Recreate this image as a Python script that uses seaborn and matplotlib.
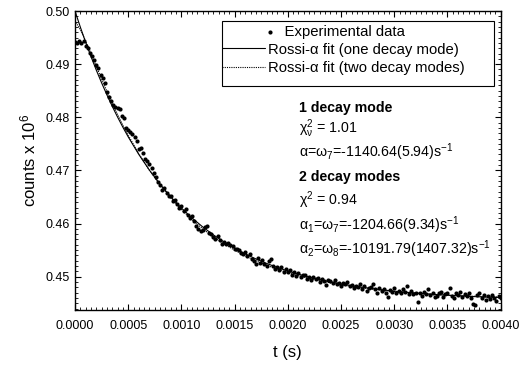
import numpy as np
import pandas as pd
import matplotlib
matplotlib.use("Agg")
import matplotlib.pyplot as plt
import seaborn as sns
from matplotlib.legend_handler import HandlerPathCollection
from matplotlib.ticker import MultipleLocator
from matplotlib.patches import Rectangle

# ---------------- data ----------------
t_step = 2e-5  # sampling interval of the measured points (s)

counts = [
    0.49425, 0.49405, 0.49440, 0.49395, 0.49430,
    0.49335, 0.49300, 0.49215, 0.49160, 0.49085,
    0.48985, 0.48920, 0.48790, 0.48735, 0.48640,
    0.48480, 0.48390, 0.48310, 0.48240, 0.48195,
    0.48175, 0.48150, 0.48030, 0.47990, 0.47800,
    0.47760, 0.47730, 0.47690, 0.47620, 0.47560,
    0.47400, 0.47430, 0.47330, 0.47220, 0.47180,
    0.47120, 0.47040, 0.46960, 0.46880, 0.46790,
    0.46720, 0.46640, 0.46660, 0.46570, 0.46520,
    0.46510, 0.46430, 0.46450, 0.46360, 0.46290,
    0.46330, 0.46240, 0.46270, 0.46160, 0.46100,
    0.46140, 0.46050, 0.45960, 0.45890, 0.45860,
    0.45880, 0.45930, 0.45950, 0.45820, 0.45800,
    0.45740, 0.45700, 0.45760, 0.45690, 0.45620,
    0.45660, 0.45610, 0.45640, 0.45590, 0.45580,
    0.45530, 0.45520, 0.45510, 0.45440, 0.45420,
    0.45470, 0.45390, 0.45420, 0.45330, 0.45300,
    0.45230, 0.45360, 0.45250, 0.45310, 0.45230,
    0.45210, 0.45290, 0.45340, 0.45200, 0.45150,
    0.45190, 0.45120, 0.45180, 0.45090, 0.45140,
    0.45080, 0.45120, 0.45040, 0.45090, 0.45010,
    0.45060, 0.44990, 0.45030, 0.45040, 0.44960,
    0.45000, 0.44930, 0.44990, 0.44950, 0.44980,
    0.44900, 0.44960, 0.44910, 0.44850, 0.44930,
    0.44920, 0.44880, 0.44940, 0.44860, 0.44890,
    0.44830, 0.44880, 0.44860, 0.44900, 0.44820,
    0.44850, 0.44780, 0.44830, 0.44800, 0.44860,
    0.44760, 0.44820, 0.44740, 0.44790, 0.44810,
    0.44870, 0.44760, 0.44700, 0.44780, 0.44740,
    0.44770, 0.44690, 0.44620, 0.44750, 0.44720,
    0.44780, 0.44700, 0.44740, 0.44690, 0.44760,
    0.44720, 0.44820, 0.44680, 0.44730, 0.44670,
    0.44700, 0.44530, 0.44690, 0.44640, 0.44720,
    0.44680, 0.44760, 0.44650, 0.44700, 0.44620,
    0.44640, 0.44690, 0.44720, 0.44610, 0.44670,
    0.44700, 0.44790, 0.44630, 0.44600, 0.44690,
    0.44660, 0.44720, 0.44610, 0.44680, 0.44640,
    0.44700, 0.44590, 0.44490, 0.44470, 0.44650,
    0.44690, 0.44600, 0.44660, 0.44570, 0.44630,
    0.44580, 0.44650, 0.44600, 0.44550, 0.44640, 0.44590,
]

fit_t = [0.0, 0.00005, 0.0001, 0.00015, 0.0002, 0.00025, 0.0003, 0.00035,
         0.0004, 0.00045, 0.0005, 0.0006, 0.0007, 0.0008, 0.0009, 0.0010,
         0.0011, 0.0012, 0.0013, 0.0014, 0.0015, 0.0016, 0.0017, 0.0018,
         0.0019, 0.0020, 0.0021, 0.0022, 0.0023, 0.0024, 0.0025, 0.0026,
         0.0027, 0.0028, 0.0029, 0.0030, 0.0031, 0.0032, 0.0033, 0.0034,
         0.0035, 0.0036, 0.0037, 0.0038, 0.0039, 0.0040]

fit_one_mode = [0.50000, 0.49698, 0.49413, 0.49143, 0.48888, 0.48648, 0.48421, 0.48206,
                0.48004, 0.47812, 0.47631, 0.47299, 0.47003, 0.46738, 0.46503, 0.46292,
                0.46104, 0.45937, 0.45787, 0.45654, 0.45535, 0.45429, 0.45334, 0.45250,
                0.45174, 0.45107, 0.45047, 0.44993, 0.44946, 0.44903, 0.44865, 0.44831,
                0.44801, 0.44774, 0.44749, 0.44728, 0.44709, 0.44692, 0.44676, 0.44663,
                0.44651, 0.44640, 0.44630, 0.44621, 0.44614, 0.44607]

fit_two_modes = [0.49820, 0.49649, 0.49434, 0.49199, 0.48958, 0.48719, 0.48488, 0.48265,
                 0.48053, 0.47852, 0.47661, 0.47312, 0.47001, 0.46725, 0.46481, 0.46264,
                 0.46072, 0.45901, 0.45750, 0.45616, 0.45497, 0.45392, 0.45299, 0.45216,
                 0.45143, 0.45078, 0.45020, 0.44969, 0.44924, 0.44884, 0.44848, 0.44817,
                 0.44789, 0.44764, 0.44742, 0.44722, 0.44705, 0.44690, 0.44676, 0.44664,
                 0.44653, 0.44644, 0.44636, 0.44628, 0.44622, 0.44616]

x_ticks = [0.0000, 0.0005, 0.0010, 0.0015, 0.0020, 0.0025, 0.0030, 0.0035, 0.0040]
x_tick_labels = ["0.0000", "0.0005", "0.0010", "0.0015", "0.0020",
                 "0.0025", "0.0030", "0.0035", "0.0040"]
y_ticks = [0.45, 0.46, 0.47, 0.48, 0.49, 0.50]
y_tick_labels = ["0.45", "0.46", "0.47", "0.48", "0.49", "0.50"]

legend_labels = ["    Experimental data",
                 "Rossi-\u03b1 fit (one decay mode)",
                 "Rossi-\u03b1 fit (two decay modes)"]

annotations = [
    ("1 decay mode", "bold"),
    (r"$\chi^{2}_{\nu}$ = 1.01", "normal"),
    (r"$\alpha$=$\omega_{7}$=-1140.64(5.94)s$^{-1}$", "normal"),
    ("2 decay modes", "bold"),
    (r"$\chi^{2}$ = 0.94", "normal"),
    (r"$\alpha_{1}$=$\omega_{7}$=-1204.66(9.34)s$^{-1}$", "normal"),
    (r"$\alpha_{2}$=$\omega_{8}$=-10191.79(1407.32)s$^{-1}$", "normal"),
]

# ---------------- style ----------------
sns.set_theme(style="ticks")
plt.rcParams["font.family"] = ["Liberation Sans", "DejaVu Sans"]
plt.rcParams["mathtext.fontset"] = "custom"
plt.rcParams["mathtext.rm"] = "Liberation Sans"
plt.rcParams["mathtext.it"] = "Liberation Sans:italic"
plt.rcParams["mathtext.bf"] = "Liberation Sans:bold"
plt.rcParams["mathtext.default"] = "regular"
for k in ["text.color", "axes.labelcolor", "xtick.color", "ytick.color", "axes.edgecolor"]:
    plt.rcParams[k] = "black"

df = pd.DataFrame({"t": np.arange(len(counts)) * t_step, "counts": counts})
fits = pd.DataFrame({"t": fit_t, "one": fit_one_mode, "two": fit_two_modes})

fig = plt.figure(figsize=(5.32, 3.65), dpi=100)
fig.patch.set_facecolor("white")
ax = fig.add_axes([0.14098, 0.15068, 0.80019, 0.81918])
ax.set_facecolor("white")

sns.scatterplot(data=df, x="t", y="counts", ax=ax, color="black", s=9,
                linewidth=0, label=legend_labels[0], zorder=3)
sns.lineplot(data=fits, x="t", y="one", ax=ax, color="black", lw=0.8,
             label=legend_labels[1], zorder=4)
sns.lineplot(data=fits, x="t", y="two", ax=ax, color="black", lw=0.8,
             linestyle=(0, (1, 1)), label=legend_labels[2], zorder=4)

ax.set_xlim(0, 0.004)
ax.set_ylim(0.44373, 0.50)
ax.set_xticks(x_ticks)
ax.set_xticklabels(x_tick_labels)
ax.set_yticks(y_ticks)
ax.set_yticklabels(y_tick_labels)
ax.xaxis.set_minor_locator(MultipleLocator(0.00005))
ax.yaxis.set_minor_locator(MultipleLocator(0.001))
ax.tick_params(which="both", direction="in", top=True, right=True)
ax.tick_params(which="major", length=4, width=0.8, labelsize=9)
ax.tick_params(axis="x", which="major", pad=7.5)
ax.tick_params(axis="y", which="major", pad=4)
ax.tick_params(which="minor", length=2.2, width=0.6)
for sp in ax.spines.values():
    sp.set_visible(True)
    sp.set_color("black")
    sp.set_linewidth(1.0)

ax.set_xlabel("t (s)", fontsize=12, labelpad=9)
ax.set_ylabel("counts x 10$^{6}$", fontsize=12, labelpad=5)


class DotRight(HandlerPathCollection):
    def get_xdata(self, legend, xdescent, ydescent, width, height, fontsize):
        x = -xdescent + width + 0.35 * fontsize
        return np.array([x]), np.array([x])


if ax.get_legend() is not None:
    ax.get_legend().remove()
handles, labels = ax.get_legend_handles_labels()
leg = ax.legend(handles, labels, loc="upper left",
                bbox_to_anchor=(0.3453, 0.9548), borderaxespad=0, borderpad=0,
                frameon=False, fontsize=10.7, handlelength=2.9,
                handletextpad=0.2, labelspacing=0.28, scatterpoints=1,
                handler_map={type(handles[0]): DotRight()})
ax.add_patch(Rectangle((0.3453, 0.7492), 0.6390, 0.2174, transform=ax.transAxes,
                       fill=False, edgecolor="black", lw=0.8, zorder=5))

ann_x = 0.526
ann_y = [0.6622, 0.5920, 0.5117, 0.4314, 0.3512, 0.2676, 0.1873]
for (txt, wt), yy in zip(annotations, ann_y):
    ax.text(ann_x, yy, txt, transform=ax.transAxes, fontsize=10.2,
            fontweight=wt, va="baseline", ha="left")

fig.savefig("out.png", dpi=100, facecolor="white")
